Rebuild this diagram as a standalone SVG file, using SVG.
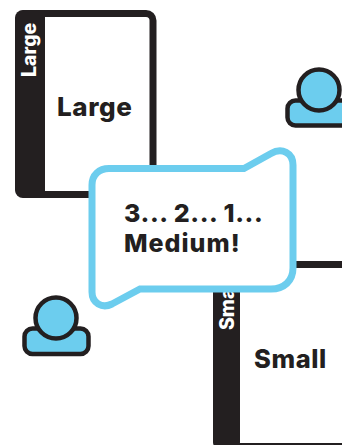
<svg xmlns="http://www.w3.org/2000/svg" width="342" height="445" viewBox="0 0 342 445">
<style>
.t{font-family:Inter,"Liberation Sans",sans-serif;font-weight:800;fill:#231f20;letter-spacing:.6px}
.s{font-family:Inter,"Liberation Sans",sans-serif;font-weight:800;fill:#fff;font-size:19.500px}
.card{fill:#fff;stroke:#231f20;stroke-width:7}
.p{fill:#6ccdee;stroke:#231f20;stroke-width:4.500}
</style>
<rect width="342" height="445" fill="#fff"/>
<g id="card-small">
<rect class="card" x="216.500" y="264.500" width="200" height="182" rx="8"/>
<rect x="213" y="261" width="27" height="189" rx="8" fill="#231f20"/>
<text class="s" transform="translate(234,330) rotate(-90)">Small</text>
<text class="t" x="254" y="368" font-size="25.500">Small</text>
</g>
<g id="card-large">
<rect class="card" x="18.500" y="13.500" width="134.500" height="181" rx="7"/>
<path d="M45 10H23a8 8 0 0 0-8 8V190a8 8 0 0 0 8 8H45Z" fill="#231f20"/>
<text class="s" transform="translate(36,77) rotate(-90)">Large</text>
<text class="t" x="57" y="116" font-size="26">Large</text>
</g>
<g id="person-right">
<rect class="p" x="287.500" y="100.500" width="64" height="25" rx="8"/>
<circle class="p" cx="319" cy="90" r="20.500"/>
</g>
<g id="person-left">
<rect class="p" x="24.500" y="328.500" width="64" height="25.500" rx="8"/>
<circle class="p" cx="56" cy="318" r="20.500"/>
</g>
<g id="bubble">
<path d="M244 168.500L271 153.500C282 147 293 153 293 165V268C293 281 284 289 271 289H140L112 304C102 309 92 303 92 292V185C92 175 99 168.500 109 168.500Z" fill="#fff" stroke="#6ccdee" stroke-width="7"/>
<text class="t" font-size="25"><tspan x="124" y="222">3... 2... 1...</tspan><tspan x="124" y="252" letter-spacing="1">Medium!</tspan></text>
</g>
</svg>
